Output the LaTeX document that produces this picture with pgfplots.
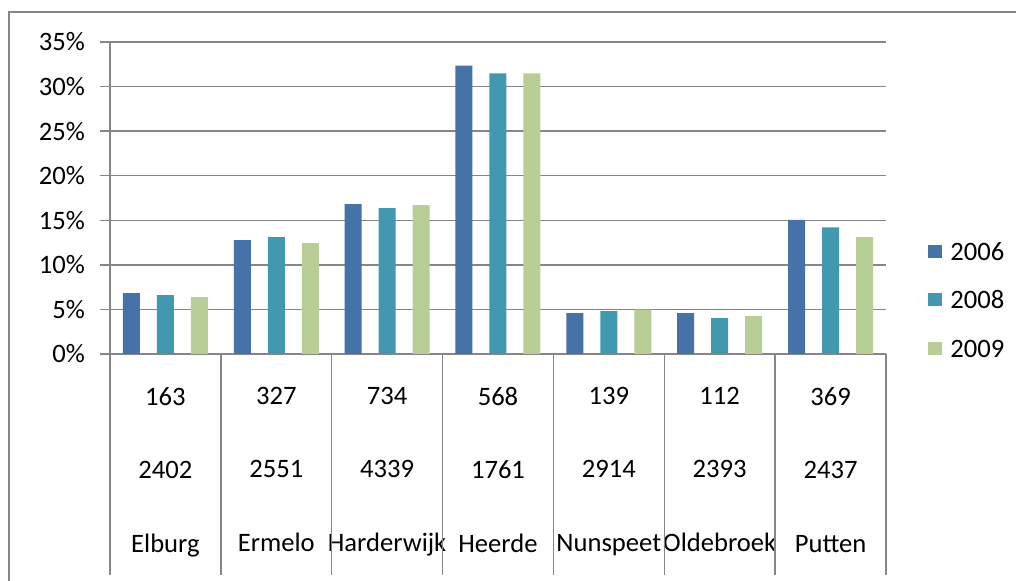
\documentclass[border=0pt]{standalone}
\usepackage{fontspec}
\setmainfont{Carlito}
\usepackage{pgfplots}
\pgfplotsset{compat=1.18}
\definecolor{c06}{HTML}{4572A7}
\definecolor{c08}{HTML}{4198AF}
\definecolor{c09}{HTML}{B9CD96}
\definecolor{gridgray}{HTML}{868686}
\pgfplotsset{sq legend/.style={legend image code/.code={\fill[##1] (0pt,-3.3pt) rectangle (6.6pt,3.3pt); \path (11pt,0pt);}}}
\begin{document}
\begin{tikzpicture}[x=1pt,y=1pt]
\useasboundingbox (-55,-113.5) rectangle (453,177);
\begin{axis}[
  at={(0,0)}, anchor=south west,
  width=388pt, height=156pt, scale only axis,
  ymin=0, ymax=35, ytick={0,5,...,35},
  yticklabel={\pgfmathprintnumber{\tick}\%},
  xmin=-0.5, xmax=6.5,
  xtick={0,...,6},
  xticklabels={{163\\2402\\Elburg},{327\\2551\\Ermelo},{734\\4339\\Harderwijk},{568\\1761\\Heerde},{139\\2914\\Nunspeet},{112\\2393\\Oldebroek},{369\\2437\\Putten}},
  xtick style={draw=none},
  ytick style={draw=gridgray, line width=0.75pt},
  tick align=outside, major tick length=5pt,
  ymajorgrids, grid style={gridgray, line width=0.75pt},
  axis x line*=bottom, axis y line*=left,
  axis line style={gridgray, line width=0.75pt},
  clip=false,
  ybar, bar width=8.5pt,
  /pgf/number format/assume math mode=true,
  tick label style={font=\fontsize{13.3}{16}\selectfont},
  xticklabel style={align=center, font=\fontsize{13.3}{36.8}\selectfont, anchor=north, yshift=-8pt},
  yticklabel style={xshift=-4pt},
  legend style={at={(1.054,0.359)}, anchor=north west, draw=none, fill=none,
    inner sep=0pt, font=\fontsize{13.3}{16}\selectfont,
    nodes={inner sep=0pt, text height=9pt, text depth=0pt}, row sep=15.2pt},
  legend cell align=left,
]
\addplot[fill=c06, draw=none, bar shift=-17pt, sq legend] coordinates {(0,6.83) (1,12.77) (2,16.8) (3,32.36) (4,4.59) (5,4.59) (6,15.05)};
\addplot[fill=c08, draw=none, bar shift=0pt, sq legend] coordinates {(0,6.6) (1,13.1) (2,16.35) (3,31.47) (4,4.8) (5,4.03) (6,14.2)};
\addplot[fill=c09, draw=none, bar shift=17pt, sq legend] coordinates {(0,6.38) (1,12.43) (2,16.7) (3,31.47) (4,4.97) (5,4.25) (6,13.1)};
\legend{2006,2008,2009}
\pgfplotsinvokeforeach{-0.5,0.5,1.5,2.5,3.5,4.5,5.5,6.5}{
  \draw[gridgray, line width=0.75pt] (axis cs:#1,0) -- ([yshift=-110.5pt]axis cs:#1,0);
}
\end{axis}
\draw[gridgray, line width=1.2pt] (-50.5,-113.5) -- (-50.5,171) -- (453,171);
\end{tikzpicture}
\end{document}
